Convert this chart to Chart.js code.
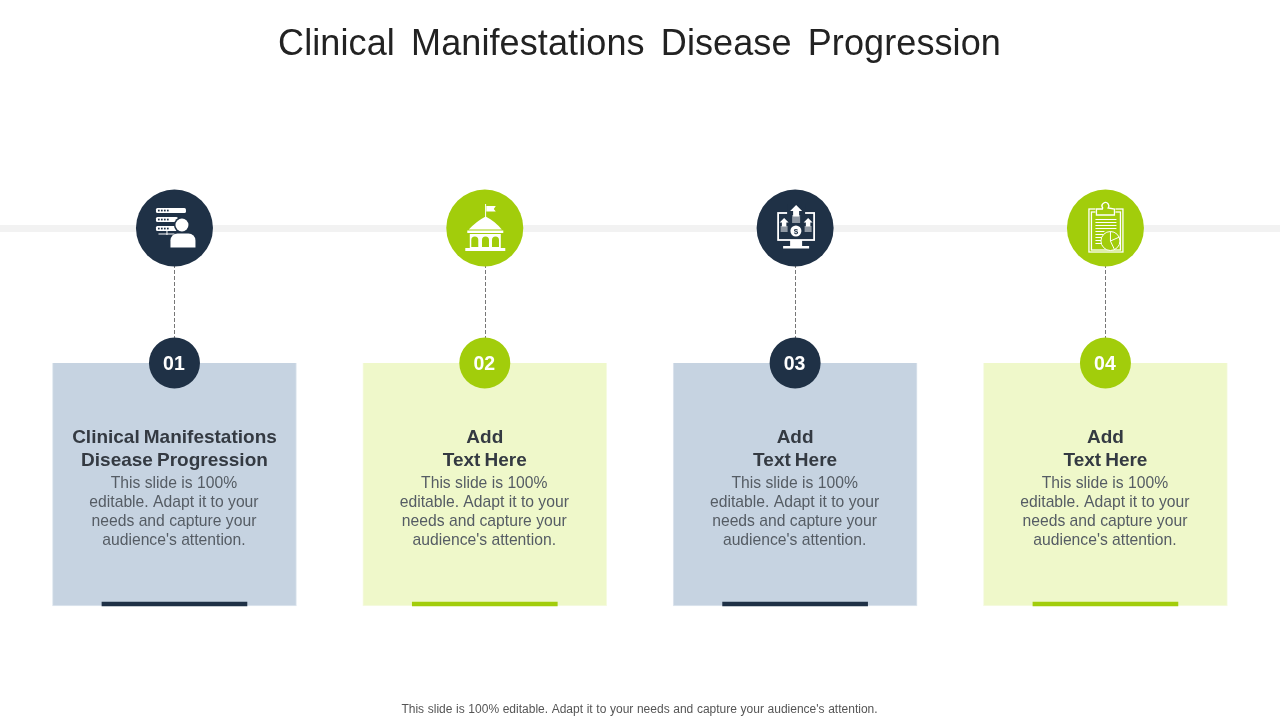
<!DOCTYPE html>
<html>
<head>
<meta charset="utf-8">
<title>Clinical Manifestations Disease Progression</title>
<script src="https://cdn.jsdelivr.net/npm/chart.js@4/dist/chart.umd.min.js"></script>
<style>
html,body{margin:0;padding:0;background:#fff;overflow:hidden}
canvas{display:block}
</style>
</head>
<body>
<canvas id="slide" width="1280" height="720"></canvas>
<script>
const DARK = '#1f3146';
const GREEN = '#a2cd0b';
const FONT = '"Liberation Sans", Arial, sans-serif';

const slideTitle = 'Clinical Manifestations Disease Progression';
const footerText = "This slide is 100% editable. Adapt it to your needs and capture your audience's attention.";
const steps = ['01', '02', '03', '04'];
const headings = [
    ['Clinical Manifestations', 'Disease Progression'],
    ['Add', 'Text Here'],
    ['Add', 'Text Here'],
    ['Add', 'Text Here']
];
const bodyLines = ['This slide is 100%', 'editable. Adapt it to your', 'needs and capture your', "audience's attention."];
const cardSpan = [363, 606];
const accentSpan = [602, 606];
const iconRow = [228, 228, 228, 228];
const badgeRow = [363, 363, 363, 363];

const stepColors = [DARK, GREEN, DARK, GREEN];
const cardColors = ['#c6d3e1', '#eff8ca', '#c6d3e1', '#eff8ca'];

function drawIcon(ctx, i, cx, cy, bg) {
    ctx.save();
    ctx.translate(cx, cy);
    ctx.fillStyle = '#fff';
    ctx.strokeStyle = '#fff';
    ctx.lineWidth = 1.2;
    iconDrawers[i](ctx, bg);
    ctx.restore();
}

function pill(ctx, x, y, w, h, r) {
    ctx.beginPath();
    ctx.roundRect(x, y, w, h, r);
    ctx.fill();
}

function arrowUp(ctx, x, top, w) {
    ctx.beginPath();
    ctx.moveTo(x, top);
    ctx.lineTo(x + w / 2, top + w / 2);
    ctx.lineTo(x + w / 4, top + w / 2);
    ctx.lineTo(x + w / 4, top + w * 0.95);
    ctx.lineTo(x - w / 4, top + w * 0.95);
    ctx.lineTo(x - w / 4, top + w / 2);
    ctx.lineTo(x - w / 2, top + w / 2);
    ctx.closePath();
    ctx.fill();
}

const iconDrawers = [
    // servers + person
    function (ctx, bg) {
        [-20, -11, -2].forEach(function (y, k) {
            pill(ctx, -18.5, y, k === 0 ? 30 : 22, 5, 1.5);
            ctx.fillStyle = bg;
            [-16.5, -13.5, -10.5, -7.5].forEach(function (x) { ctx.fillRect(x, y + 1.7, 1.7, 1.7); });
            ctx.fillStyle = '#fff';
        });
        ctx.fillRect(-16, 5.5, 16, 1);
        ctx.fillRect(-8, 3, 1, 4);
        ctx.fillStyle = bg;
        ctx.beginPath(); ctx.arc(7.5, -3, 8, 0, Math.PI * 2); ctx.fill();
        ctx.fillStyle = '#fff';
        ctx.beginPath(); ctx.arc(7.5, -3, 6.5, 0, Math.PI * 2); ctx.fill();
        ctx.beginPath();
        ctx.roundRect(-4, 5.5, 25, 14, [7, 7, 0, 0]);
        ctx.fill();
    },
    // institution with flag
    function (ctx, bg) {
        ctx.fillRect(0.3, -24, 1, 13);
        ctx.beginPath();
        ctx.moveTo(1.5, -22); ctx.lineTo(11, -22); ctx.lineTo(9, -19); ctx.lineTo(11, -16.5); ctx.lineTo(1.5, -16.5);
        ctx.closePath();
        ctx.fill();
        ctx.beginPath();
        ctx.moveTo(0.8, -11.5);
        ctx.quadraticCurveTo(10, -7, 17, 1.5);
        ctx.lineTo(-16, 1.5);
        ctx.quadraticCurveTo(-8, -7, 0.8, -11.5);
        ctx.closePath();
        ctx.fill();
        ctx.fillRect(-17.5, 2.5, 36, 2.5);
        ctx.fillRect(-15, 6, 31, 14);
        ctx.fillRect(-19.5, 20, 40, 3);
        ctx.fillStyle = bg;
        [-10, 0.7, 10.7].forEach(function (x) {
            ctx.beginPath();
            ctx.roundRect(x - 3.5, 8.5, 7, 10.5, [3.5, 3.5, 0, 0]);
            ctx.fill();
        });
    },
    // monitor with arrows and coin
    function (ctx, bg) {
        ctx.lineWidth = 1.8;
        ctx.strokeRect(-17, -15, 36, 27);
        ctx.fillRect(-5, 12, 12, 6);
        ctx.fillRect(-12, 18, 26, 2.5);
        ctx.fillStyle = bg;
        ctx.fillRect(-8, -24, 18, 11);
        ctx.fillStyle = '#fff';
        arrowUp(ctx, 1, -23, 12);
        [-12.5, -10.5, -8.5, -6.5].forEach(function (y) { ctx.fillRect(-3, y, 8, 1); });
        arrowUp(ctx, -11, -10, 9);
        arrowUp(ctx, 13, -10, 9);
        [-1.5, 0.5, 2.5].forEach(function (y) {
            ctx.fillRect(-14.5, y, 7, 1);
            ctx.fillRect(9.5, y, 7, 1);
        });
        ctx.beginPath(); ctx.arc(0.8, 3, 5.5, 0, Math.PI * 2); ctx.fill();
        ctx.fillStyle = bg;
        ctx.font = 'bold 8px ' + FONT;
        ctx.textAlign = 'center';
        ctx.textBaseline = 'middle';
        ctx.fillText('$', 0.8, 3.3);
    },
    // clipboard with pie
    function (ctx, bg) {
        ctx.lineWidth = 1.3;
        ctx.strokeRect(-16.5, -19, 34, 43);
        ctx.strokeRect(-14, -16, 29, 38);
        ctx.fillStyle = bg;
        ctx.fillRect(-10, -21, 20, 8);
        ctx.fillStyle = '#fff';
        ctx.beginPath();
        ctx.moveTo(-9, -13); ctx.lineTo(-9, -19); ctx.lineTo(-3, -19);
        ctx.arc(0, -22, 3.4, Math.PI * 0.8, Math.PI * 0.2);
        ctx.lineTo(9, -19); ctx.lineTo(9, -13);
        ctx.closePath();
        ctx.stroke();
        [-9, -6, -3, 0].forEach(function (y) { ctx.fillRect(-10, y, 21, 1); });
        [3, 6, 9, 12, 15].forEach(function (y) { ctx.fillRect(-10, y, 9, 1); });
        ctx.fillStyle = bg;
        ctx.beginPath(); ctx.arc(5, 13, 9.5, 0, Math.PI * 2); ctx.fill();
        ctx.lineWidth = 1;
        ctx.beginPath(); ctx.arc(5, 13, 9.5, 0, Math.PI * 2); ctx.stroke();
        ctx.beginPath();
        ctx.moveTo(5, 3.5); ctx.lineTo(5, 13); ctx.lineTo(14, 9);
        ctx.moveTo(5, 13); ctx.lineTo(9, 21.5);
        ctx.stroke();
    }
];

function spacedText(ctx, str, x, y, spacing, letters) {
    ctx.wordSpacing = spacing + 'px';
    ctx.letterSpacing = (letters || 0) + 'px';
    ctx.fillText(str, x, y);
    ctx.wordSpacing = '0px';
    ctx.letterSpacing = '0px';
}

const slideBand = {
    id: 'slideBand',
    beforeDatasetsDraw(chart) {
        const { ctx, scales } = chart;
        const bandY = scales.y.getPixelForValue(iconRow[0]);
        ctx.save();
        ctx.fillStyle = '#f2f2f2';
        ctx.fillRect(0, bandY - 3, chart.width, 7);
        ctx.strokeStyle = '#777';
        ctx.lineWidth = 1;
        ctx.setLineDash([4, 2]);
        steps.forEach(function (s, i) {
            const x = Math.round(scales.x.getPixelForValue(i)) + 0.5;
            ctx.beginPath();
            ctx.moveTo(x, scales.y.getPixelForValue(iconRow[i]));
            ctx.lineTo(x, scales.y.getPixelForValue(badgeRow[i]));
            ctx.stroke();
        });
        ctx.restore();
    }
};

const slideText = {
    id: 'slideText',
    afterDatasetsDraw(chart) {
        const { ctx, scales } = chart;
        ctx.save();
        ctx.textAlign = 'center';
        ctx.textBaseline = 'alphabetic';

        ctx.fillStyle = '#222222';
        ctx.font = '36px ' + FONT;
        spacedText(ctx, slideTitle, 639.5, 55, 6.1, 0.1);

        ctx.fillStyle = '#555555';
        ctx.font = '12px ' + FONT;
        spacedText(ctx, footerText, 639.5, 713, 0.3);

        steps.forEach(function (s, i) {
            const x = scales.x.getPixelForValue(i);
            drawIcon(ctx, i, x, scales.y.getPixelForValue(iconRow[i]), stepColors[i]);

            ctx.textAlign = 'center';
            ctx.textBaseline = 'alphabetic';
            ctx.fillStyle = '#ffffff';
            ctx.font = 'bold 19.5px ' + FONT;
            ctx.fillText(s, x - 0.5, 370);

            ctx.fillStyle = '#343a42';
            ctx.font = 'bold 19px ' + FONT;
            headings[i].forEach(function (line, k) {
                spacedText(ctx, line, x, 443 + k * 23, -1.2);
            });

            ctx.fillStyle = '#555c64';
            ctx.font = '15.7px ' + FONT;
            bodyLines.forEach(function (line, k) {
                ctx.fillText(line, x - 0.5, 488 + k * 19);
            });
        });
        ctx.restore();
    }
};

new Chart(document.getElementById('slide').getContext('2d'), {
    data: {
        labels: steps,
        datasets: [
            {
                type: 'line',
                label: 'Icons',
                data: iconRow,
                showLine: false,
                pointRadius: 38.5,
                pointHoverRadius: 38.5,
                pointBorderWidth: 0,
                pointBackgroundColor: stepColors,
                order: 1
            },
            {
                type: 'line',
                label: 'Badges',
                data: badgeRow,
                showLine: false,
                pointRadius: 25.5,
                pointHoverRadius: 25.5,
                pointBorderWidth: 0,
                pointBackgroundColor: stepColors,
                order: 1
            },
            {
                type: 'bar',
                label: 'Accents',
                data: steps.map(function () { return accentSpan; }),
                backgroundColor: stepColors,
                barThickness: 145,
                grouped: false,
                order: 2
            },
            {
                type: 'bar',
                label: 'Cards',
                data: steps.map(function () { return cardSpan; }),
                backgroundColor: cardColors,
                borderColor: ['#dfe7ef', '#f6fbe3', '#dfe7ef', '#f6fbe3'],
                borderWidth: 1,
                barThickness: 244,
                grouped: false,
                order: 3
            }
        ]
    },
    options: {
        responsive: false,
        animation: false,
        devicePixelRatio: 1,
        layout: { autoPadding: false, padding: { left: 19.3, right: 19.4, top: 0, bottom: 0 } },
        plugins: {
            legend: { display: false },
            title: { display: false },
            tooltip: { enabled: false }
        },
        scales: {
            x: { type: 'category', offset: true, display: false },
            y: { type: 'linear', reverse: true, min: 0, max: 720, display: false }
        }
    },
    plugins: [slideBand, slideText]
});
</script>
</body>
</html>
